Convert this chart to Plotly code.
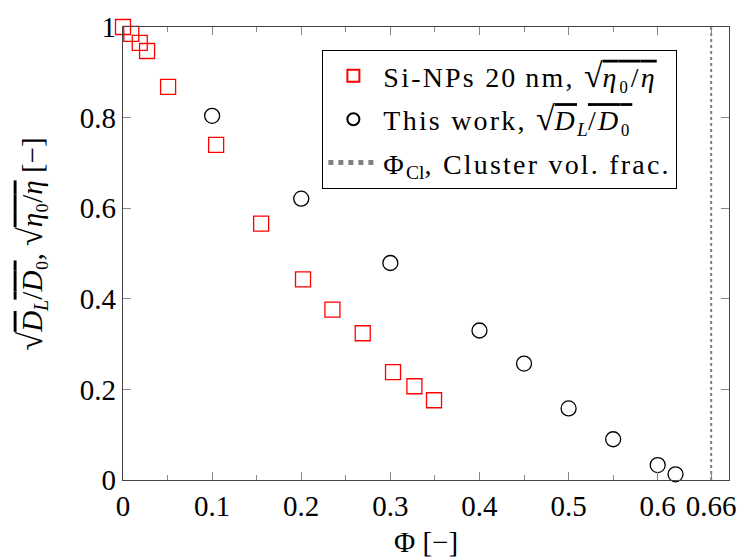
import plotly.graph_objects as go

# Data
si_phi = [0.0, 0.0093, 0.0188, 0.027, 0.0506, 0.1045, 0.155, 0.202, 0.235, 0.269, 0.303, 0.327, 0.349]
si_val = [1.0, 0.985, 0.965, 0.947, 0.868, 0.740, 0.566, 0.443, 0.376, 0.324, 0.238, 0.207, 0.176]
tw_phi = [0.1, 0.2, 0.3, 0.4, 0.45, 0.5, 0.55, 0.6, 0.62]
tw_val = [0.804, 0.621, 0.479, 0.330, 0.257, 0.158, 0.090, 0.033, 0.0125]
phi_cl = 0.66
x_ticks = [0, 0.1, 0.2, 0.3, 0.4, 0.5, 0.6, 0.66]
x_ticklabels = ["0", "0.1", "0.2", "0.3", "0.4", "0.5", "0.6", "0.66"]
y_ticks = [0, 0.2, 0.4, 0.6, 0.8, 1]
y_ticklabels = ["0", "0.2", "0.4", "0.6", "0.8", "1"]

FONT = "Liberation Serif"


def ov(s):
    return "<span style='text-decoration:overline'>" + s + "</span>"


def ls(s):
    return "<span style='letter-spacing:2.2px'>" + s + "</span>"


SQ = "<span style='font-size:34px'>√</span>"
ETA = SQ + ov("<i>η</i>₀/<i>η</i>")
DL = SQ + ov("<i>D</i>") + "<i><sub>L</sub></i>" + ov("/<i>D</i>₀")

fig = go.Figure()
fig.add_trace(go.Scatter(
    x=si_phi, y=si_val, mode="markers", legendgroup="a",
    name=ls("Si-NPs 20\u2009nm, ") + SQ + ov(ls("<i>η</i>₀/<i>η</i>")),
    marker=dict(symbol="square-open", size=15, color="#ff0000", line=dict(width=1.3)),
    cliponaxis=False,
))
fig.add_trace(go.Scatter(
    x=tw_phi, y=tw_val, mode="markers", legendgroup="b",
    name=ls("This work, ") + SQ + ov(ls("<i>D</i>")) + "<i><sub>L</sub></i>" + ov(ls("/<i>D</i>₀")),
    marker=dict(symbol="circle-open", size=15, color="black", line=dict(width=1.3)),
    cliponaxis=False,
))
fig.add_trace(go.Scatter(
    x=[phi_cl, phi_cl], y=[0, 1], mode="lines", legendgroup="c",
    name=ls("Φ") + "<sub>Cl</sub>" + ls(", Cluster vol. frac."),
    line=dict(color="#808080", width=2, dash="dot"),
))

axis_common = dict(
    showline=True, linecolor="#444", linewidth=1.2, mirror="allticks",
    ticks="inside", tickcolor="#888", tickwidth=1.2,
    showgrid=False, zeroline=False, automargin=False,
    tickfont=dict(family=FONT, size=29, color="black"),
)

fig.update_xaxes(
    range=[0, 0.68], tickvals=x_ticks, ticktext=x_ticklabels, ticklen=8,
    minor=dict(tickvals=[0.05, 0.15, 0.25, 0.35, 0.45, 0.55], ticks="inside", ticklen=5, tickcolor="#888", tickwidth=1.2),
    **axis_common,
)
fig.update_yaxes(
    range=[0, 1], tickvals=y_ticks, ticktext=y_ticklabels, ticklen=8,
    **axis_common,
)

fig.add_annotation(
    text="Φ [−]", xref="paper", yref="paper", x=0.5, y=-0.137,
    xanchor="center", yanchor="middle", showarrow=False,
    font=dict(family=FONT, size=29, color="black"),
)
fig.add_annotation(
    text=DL + ", " + ETA + " [−]", xref="paper", yref="paper", x=-0.15, y=0.52,
    xanchor="center", yanchor="middle", showarrow=False, textangle=-90,
    font=dict(family=FONT, size=29, color="black"),
)

fig.update_layout(
    width=740, height=560,
    margin=dict(l=123, r=11, t=27, b=80),
    plot_bgcolor="white", paper_bgcolor="white",
    font=dict(family=FONT, size=28, color="black"),
    legend=dict(
        x=0.329, y=0.949, xanchor="left", yanchor="top",
        bordercolor="black", borderwidth=1, bgcolor="white",
        font=dict(family=FONT, size=28, color="black"),
        tracegroupgap=4, itemwidth=50, itemsizing="constant",
    ),
)

fig.write_html("out.html")
